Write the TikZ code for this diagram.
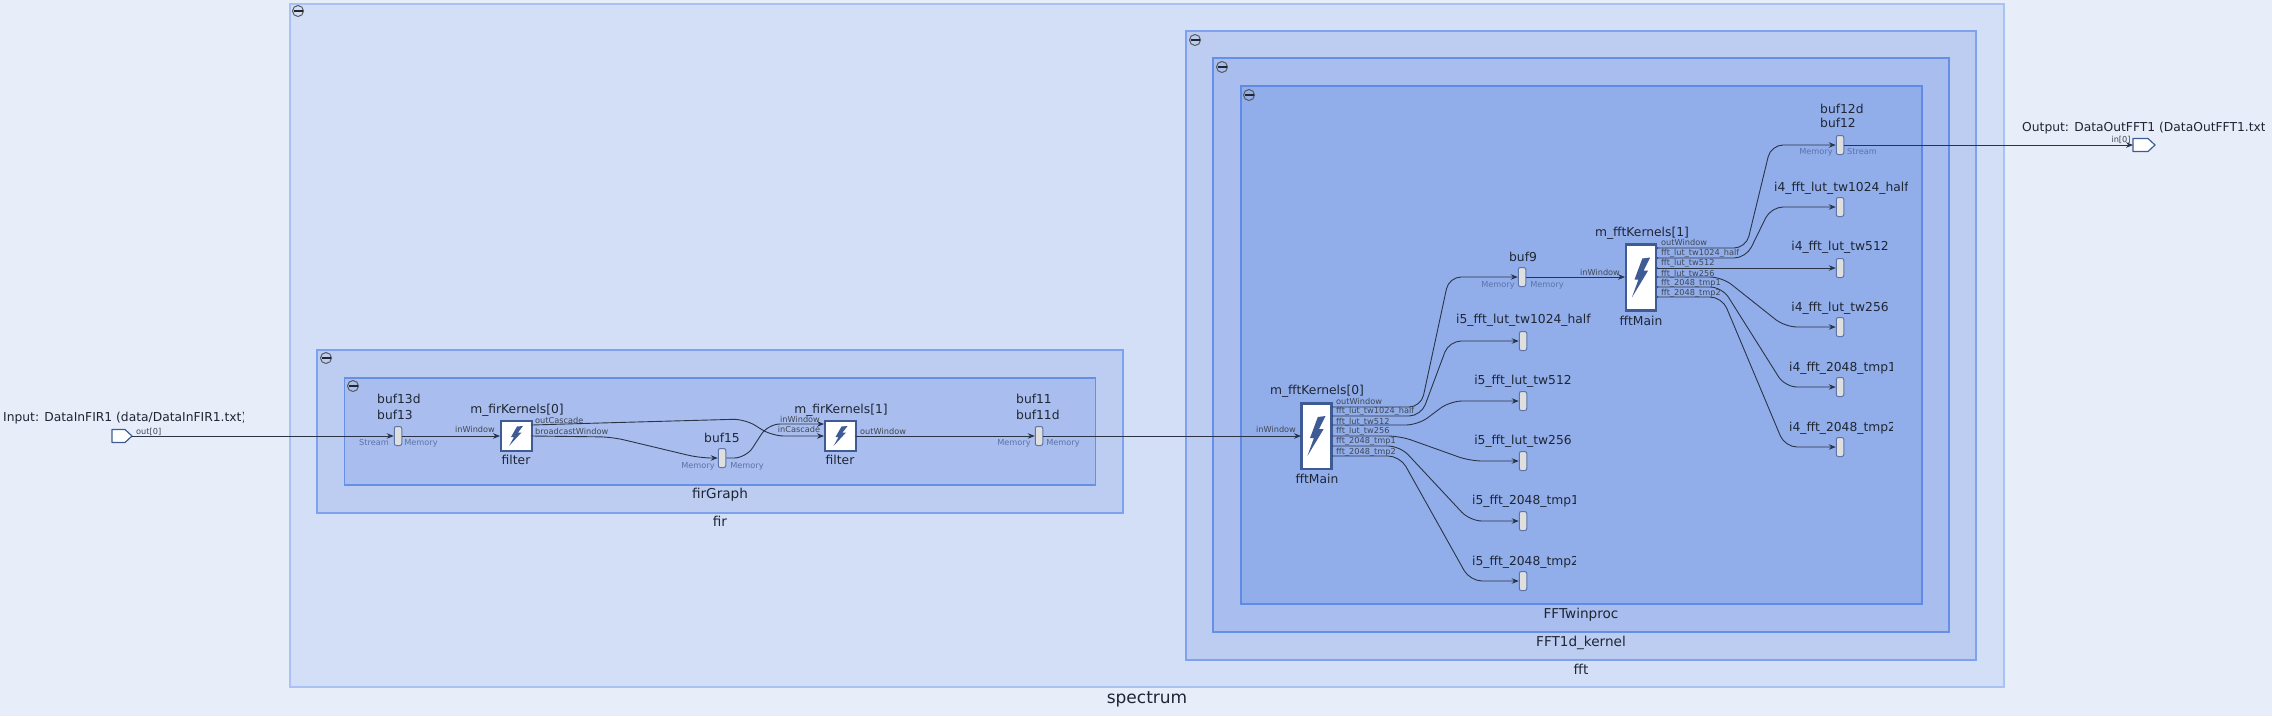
\documentclass[tikz,border=0pt]{standalone}
\usepackage{fontspec}
\setmainfont{DejaVu Sans}
\usetikzlibrary{arrows.meta}
\definecolor{bgc}{HTML}{E7EEFA}
\definecolor{fA}{HTML}{D2DFF7}\definecolor{dA}{HTML}{A9C2F3}
\definecolor{fB}{HTML}{BCCDF1}\definecolor{dB}{HTML}{7FA2EE}
\definecolor{fC}{HTML}{A9BEEE}\definecolor{dC}{HTML}{6690E8}
\definecolor{fD}{HTML}{91AEEB}\definecolor{dD}{HTML}{5F8AE6}
\definecolor{ink}{HTML}{1E2633}
\definecolor{wirec}{HTML}{2B3447}
\definecolor{steel}{HTML}{3F5B96}
\definecolor{faint}{HTML}{5B72A8}
\tikzset{
  cont/.style={rectangle,inner sep=0pt,line width=1.3pt},
  lab/.style={inner sep=0pt,text=ink,font=\fontsize{12.3}{14}\selectfont,text height=9.2pt,text depth=2.5pt},
  bigl/.style={lab,font=\fontsize{13.6}{16}\selectfont},
  hugel/.style={lab,font=\fontsize{17}{20}\selectfont},
  plab/.style={inner sep=0pt,text=ink!85,font=\fontsize{8.2}{10}\selectfont,text height=6pt,text depth=1.7pt},
  mlab/.style={plab,text=faint,yshift=-1.5pt},
  wire/.style={draw=wirec,line width=0.9pt,rounded corners=12pt,-{Stealth[length=7pt,width=5.5pt]}},
  bufbox/.style={rectangle,rounded corners=2pt,draw=steel!85,fill=gray!25!white,line width=1pt,minimum width=7.5pt,minimum height=19pt,inner sep=0pt},
  kernel/.style={rectangle,draw=steel,fill=white,line width=2pt,inner sep=0pt},
  extport/.style={draw=steel,fill=white,line width=1.2pt,line join=round},
  bolt/.pic={\fill[steel] (1,-9.5) -- (7,-10) -- (2,-3.5) -- (5.5,-3.5) -- (-7,10) -- (-2,1) -- (-5,1) -- cycle;}
}
\newcommand{\contbox}[7]{%
  \pgfmathsetmacro{\cxx}{(#2+#4)/2}\pgfmathsetmacro{\cyy}{(#3+#5)/2}%
  \pgfmathsetmacro{\cww}{#4-#2}\pgfmathsetmacro{\chh}{#5-#3}%
  \node[cont,fill=#6,draw=#7,minimum width=\cww pt,minimum height=\chh pt] (#1) at (\cxx,\cyy) {};}
\newcommand{\collapse}[2]{%
  \draw[draw=gray!70!black,line width=1pt] (#1,#2) circle (5.5pt);
  \draw[draw=ink,line width=1.2pt] ({#1-4.5},#2) -- ({#1+4.5},#2);}
\newcommand{\cliplab}[5]{%
  \begin{scope}\clip (#2,{#3-14}) rectangle (#4,{#3+14});
  \node[lab,anchor=west] (#1) at (#2,#3) {#5};\end{scope}}
\newcommand{\wireS}[4]{\draw[wire] (#1) -- (#2 |- #1) -- (#3 |- #4.west) -- (#4.west);}
\newcommand{\dotp}[1]{\fill[steel] (#1) circle (1.3pt);}
\begin{document}
\begin{tikzpicture}[x=1pt,y=-1pt]
\useasboundingbox (0,0) rectangle (2272,716);
\fill[bgc] (0,0) rectangle (2272,716);
% containers
\contbox{spectrum}{290}{4}{2004}{687}{fA}{dA}
\contbox{fir}{317}{350}{1123}{513}{fB}{dB}
\contbox{firgraph}{344.5}{378}{1095.5}{485}{fC}{dC}
\contbox{fft}{1186}{31}{1976}{660}{fB}{dB}
\contbox{fftkernel}{1213}{58}{1949}{632}{fC}{dC}
\contbox{fftwin}{1241}{86}{1922}{604}{fD}{dD}
\collapse{298}{11}\collapse{326}{358}\collapse{353}{386}
\collapse{1195}{40}\collapse{1222}{67}\collapse{1249}{95}
\node[hugel] (lspectrum) at (1147,700) {spectrum};
\node[bigl] (lfir) at (720,523) {fir};
\node[bigl] (lfirgraph) at (720,495) {firGraph};
\node[bigl] (lfft) at (1581,671) {fft};
\node[bigl] (lfftkernel) at (1581,643) {FFT1d\_kernel};
\node[bigl] (lfftwin) at (1581,615) {FFTwinproc};
% external ports
\draw[extport] (112,429.5) -- (125,429.5) -- (132,436) -- (125,442.5) -- (112,442.5) -- cycle;
\coordinate (inp) at (132,436);
\draw[extport] (2133,138.5) -- (2148,138.5) -- (2155,145) -- (2148,151.5) -- (2133,151.5) -- cycle;
\coordinate (outp) at (2133,145);
\cliplab{linput}{3}{418}{243}{Input: DataInFIR1 (data/DataInFIR1.txt)}
\cliplab{loutput}{2022}{128}{2264}{Output: DataOutFFT1 (DataOutFFT1.txt)}
\node[plab,anchor=west] (lout0) at (136,432) {out[0]};
\node[plab] (lin0) at (2121,140) {in[0]};
% buffers
\node[bufbox] (b13) at (398,436) {};
\node[bufbox] (b15) at (722,458) {};
\node[bufbox] (b11) at (1039,436) {};
\node[bufbox] (b9) at (1522,277) {};
\node[bufbox] (b12) at (1840,145) {};
\foreach \n/\y in {a/341,b/401,c/461,d/521,e/581}{\node[bufbox] (i5\n) at (1523,\y) {};}
\foreach \n/\y in {a/207,b/268,c/327,d/387,e/447}{\node[bufbox] (i4\n) at (1840,\y) {};}
% kernels
\node[kernel,minimum width=31pt,minimum height=30pt] (k0) at (516,436) {};
\node[kernel,minimum width=31pt,minimum height=30pt] (k1) at (840.5,436) {};
\node[kernel,line width=2.6pt,minimum width=30pt,minimum height=66pt] (m0) at (1316.5,436) {};
\node[kernel,line width=2.6pt,minimum width=30pt,minimum height=66pt] (m1) at (1641,277.5) {};
\fill[steel] (m0.north west) rectangle ([yshift=-3pt]m0.north east);
\fill[steel] (m1.north west) rectangle ([yshift=-3pt]m1.north east);
\pic at (k0) {bolt};
\pic at (k1) {bolt};
\pic[xscale=1.3,yscale=2] at (m0) {bolt};
\pic[xscale=1.3,yscale=2] at (m1) {bolt};
% port coordinates
\coordinate (k0i) at (500,436);
\coordinate (k0a) at (532,425);\coordinate (k0b) at (532,436);
\coordinate (k1a) at (824,424);\coordinate (k1b) at (824,436);\coordinate (k1o) at (856,436);
\coordinate (m0i) at (1301,436);
\foreach \n/\y in {a/407,b/416,c/425,d/436,e/446,f/456}{\coordinate (m0\n) at (1332,\y);\dotp{m0\n}}
\coordinate (m1i) at (1625,277);
\foreach \n/\y in {a/248,b/258,c/268,d/277,e/287,f/297}{\coordinate (m1\n) at (1657,\y);\dotp{m1\n}}
\dotp{k0a}\dotp{k0b}\dotp{k1o}
% wires
\draw[wire] (inp) -- (b13.west);
\draw[wire] (b13.east) -- (k0i);
\draw[wire] (k0a) -- (600,423) -- (745,419) -- (772,436) -- (k1b);
\draw[wire] (k0b) -- (612,437) -- (700,458) -- (b15.west);
\draw[wire] (b15.east) -- (746,458) -- (768,424) -- (k1a);
\draw[wire] (k1o) -- (b11.west);
\draw[wire] (b11.east) -- (m0i);
\coordinate (v1) at (1421,0);\coordinate (v2) at (1449,0);
\wireS{m0a}{v1}{v2}{b9}
\wireS{m0b}{v1}{v2}{i5a}
\coordinate (v3) at (1418,0);\coordinate (v4) at (1450,0);
\wireS{m0c}{v3}{v4}{i5b}
\coordinate (v5) at (1400,0);\coordinate (v6) at (1470,0);
\wireS{m0d}{v5}{v6}{i5c}
\wireS{m0e}{v5}{v6}{i5d}
\wireS{m0f}{v5}{v6}{i5e}
\draw[wire] (b9.east) -- (m1i);
\coordinate (w1) at (1746,0);\coordinate (w2) at (1771,0);
\wireS{m1a}{w1}{w2}{b12}
\wireS{m1b}{w1}{w2}{i4a}
\draw[wire] (m1c) -- (i4b.west);
\coordinate (w5) at (1722,0);\coordinate (w6) at (1785,0);
\wireS{m1d}{w5}{w6}{i4c}
\wireS{m1e}{w5}{w6}{i4d}
\wireS{m1f}{w5}{w6}{i4e}
\draw[wire] (b12.east) -- (outp);
% kernel labels
\node[lab] (lk0) at (517,410) {m\_firKernels[0]};
\node[lab] (lk0b) at (516,461) {filter};
\node[lab] (lk1) at (841,410) {m\_firKernels[1]};
\node[lab] (lk1b) at (840,461) {filter};
\node[lab] (lm0) at (1317,391) {m\_fftKernels[0]};
\node[lab] (lm0b) at (1317,480) {fftMain};
\node[lab] (lm1) at (1642,233) {m\_fftKernels[1]};
\node[lab] (lm1b) at (1641,322) {fftMain};
% buffer labels
\node[lab,anchor=west] (lb13a) at (377,400) {buf13d};
\node[lab,anchor=west] (lb13b) at (377,416) {buf13};
\node[mlab] (lb13c) at (374,442) {Stream};
\node[mlab] (lb13d) at (421,442) {Memory};
\node[lab] (lb15) at (722,439) {buf15};
\node[mlab] (lb15c) at (698,465) {Memory};
\node[mlab] (lb15d) at (747,465) {Memory};
\node[lab,anchor=west] (lb11a) at (1016,400) {buf11};
\node[lab,anchor=west] (lb11b) at (1016,416) {buf11d};
\node[mlab] (lb11c) at (1014,442) {Memory};
\node[mlab] (lb11d) at (1063,442) {Memory};
\node[lab] (lb9) at (1523,258) {buf9};
\node[mlab] (lb9c) at (1498,284) {Memory};
\node[mlab] (lb9d) at (1547,284) {Memory};
\node[lab,anchor=west] (lb12a) at (1820,110) {buf12d};
\node[lab,anchor=west] (lb12b) at (1820,124) {buf12};
\node[mlab] (lb12c) at (1816,151) {Memory};
\node[mlab] (lb12d) at (1862,151) {Stream};
\cliplab{li5a}{1456}{320}{1590}{i5\_fft\_lut\_tw1024\_half}
\node[lab] (li5b) at (1523,381) {i5\_fft\_lut\_tw512};
\node[lab] (li5c) at (1523,441) {i5\_fft\_lut\_tw256};
\cliplab{li5d}{1472}{501}{1575}{i5\_fft\_2048\_tmp1}
\cliplab{li5e}{1472}{562}{1575}{i5\_fft\_2048\_tmp2}
\cliplab{li4a}{1774}{188}{1907}{i4\_fft\_lut\_tw1024\_half}
\node[lab] (li4b) at (1840,247) {i4\_fft\_lut\_tw512};
\node[lab] (li4c) at (1840,308) {i4\_fft\_lut\_tw256};
\cliplab{li4d}{1789}{368}{1892}{i4\_fft\_2048\_tmp1}
\cliplab{li4e}{1789}{428}{1892}{i4\_fft\_2048\_tmp2}
% port labels
\node[plab] (pk0i) at (475,430) {inWindow};
\node[plab,anchor=west] (pk0a) at (535,421) {outCascade};
\node[plab,anchor=west] (pk0b) at (535,432) {broadcastWindow};
\node[plab] (pk1a) at (800,420) {inWindow};
\node[plab] (pk1b) at (799,430) {inCascade};
\node[plab,anchor=west] (pk1o) at (860,432) {outWindow};
\node[plab] (pm0i) at (1276,430) {inWindow};
\node[plab] (pm1i) at (1600,273) {inWindow};
\foreach \m/\x/\ya/\yb/\yc/\yd/\ye/\yf in {0/1336/402/411/422/431/441/452,1/1661/243/253/263/274/283/293}{
  \node[plab,anchor=west] (pm\m a) at (\x,\ya) {outWindow};
  \node[plab,anchor=west] (pm\m b) at (\x,\yb) {fft\_lut\_tw1024\_half};
  \node[plab,anchor=west] (pm\m c) at (\x,\yc) {fft\_lut\_tw512};
  \node[plab,anchor=west] (pm\m d) at (\x,\yd) {fft\_lut\_tw256};
  \node[plab,anchor=west] (pm\m e) at (\x,\ye) {fft\_2048\_tmp1};
  \node[plab,anchor=west] (pm\m f) at (\x,\yf) {fft\_2048\_tmp2};
}
\end{tikzpicture}
\end{document}
